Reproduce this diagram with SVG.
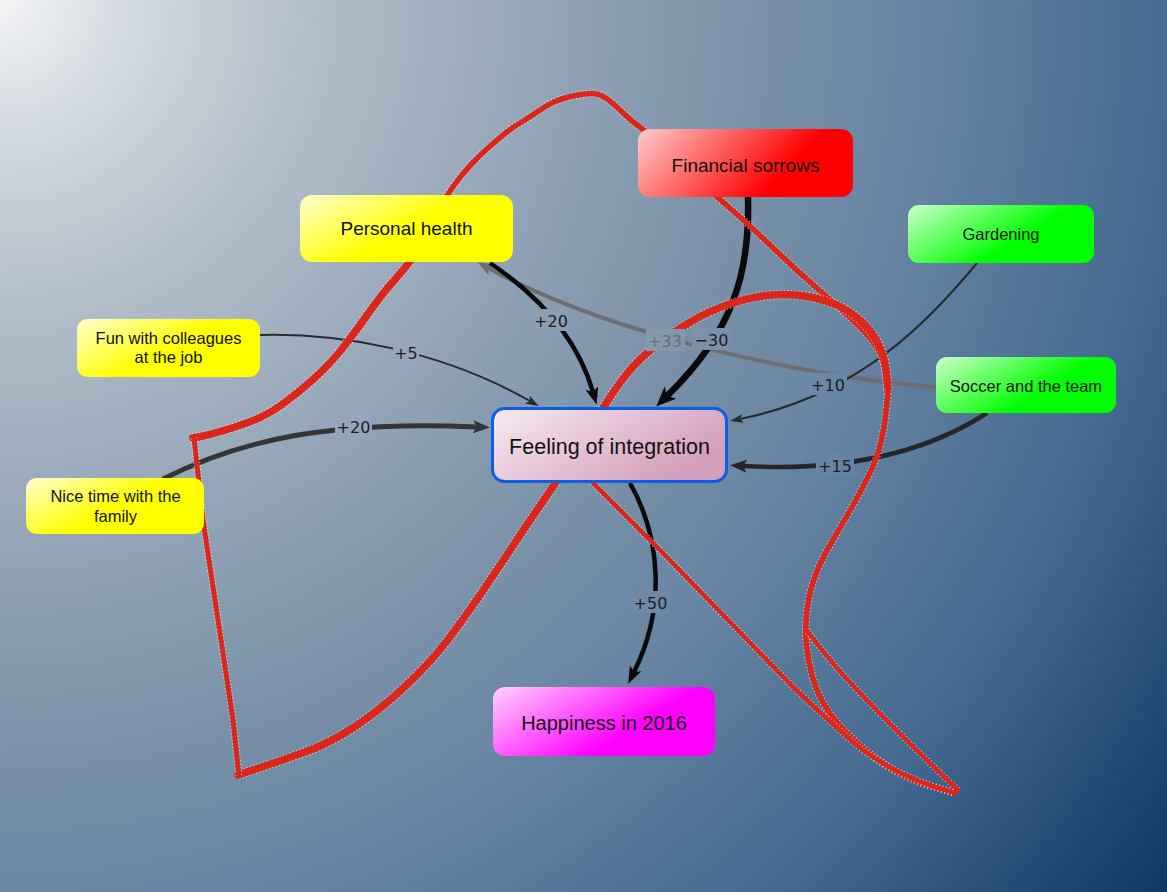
<svg xmlns="http://www.w3.org/2000/svg" width="1167" height="892" viewBox="0 0 1167 892">
<defs>
<radialGradient id="bg" gradientUnits="userSpaceOnUse" cx="0" cy="0" r="1470">
<stop offset="0" stop-color="#f3f4f6"/>
<stop offset="0.08" stop-color="#d6dce2"/>
<stop offset="0.2" stop-color="#b4c0cb"/>
<stop offset="0.35" stop-color="#97a8b9"/>
<stop offset="0.5" stop-color="#7c93a9"/>
<stop offset="0.62" stop-color="#6985a3"/>
<stop offset="0.8" stop-color="#456990"/>
<stop offset="1" stop-color="#0e3763"/>
</radialGradient>
<linearGradient id="gYellow" x1="0" y1="0" x2="1" y2="0.6">
<stop offset="0" stop-color="#ffffd2"/>
<stop offset="0.6" stop-color="#ffff00"/>
</linearGradient>
<linearGradient id="gRed" x1="0" y1="0" x2="1" y2="0.3">
<stop offset="0" stop-color="#ffcccc"/>
<stop offset="0.8" stop-color="#ff0000"/>
</linearGradient>
<linearGradient id="gGreen" x1="0" y1="0" x2="1" y2="0.5">
<stop offset="0" stop-color="#ccffcc"/>
<stop offset="0.72" stop-color="#00ff00"/>
</linearGradient>
<linearGradient id="gMagenta" x1="0" y1="0" x2="1" y2="0.5">
<stop offset="0" stop-color="#ffd2ff"/>
<stop offset="0.75" stop-color="#ff00ff"/>
</linearGradient>
<linearGradient id="gPink" x1="0" y1="0" x2="1" y2="0.5">
<stop offset="0" stop-color="#f7ebf2"/>
<stop offset="1" stop-color="#d39ebb"/>
</linearGradient>
<marker id="mA" markerUnits="userSpaceOnUse" markerWidth="20" markerHeight="17" refX="5" refY="8.5" orient="auto">
<path d="M0,0 L20,8.5 L0,17 L5,8.5 z" fill="#0a0a0a"/>
</marker>
<marker id="mB" markerUnits="userSpaceOnUse" markerWidth="17" markerHeight="13" refX="4" refY="6.5" orient="auto">
<path d="M0,0 L17,6.5 L0,13 L4,6.5 z" fill="#0a0a0a"/>
</marker>
<marker id="mC" markerUnits="userSpaceOnUse" markerWidth="17" markerHeight="13" refX="4" refY="6.5" orient="auto">
<path d="M0,0 L17,6.5 L0,13 L4,6.5 z" fill="#262626"/>
</marker>
<marker id="mC2" markerUnits="userSpaceOnUse" markerWidth="17" markerHeight="13" refX="4" refY="6.5" orient="auto">
<path d="M0,0 L17,6.5 L0,13 L4,6.5 z" fill="#353535"/>
</marker>
<marker id="mD" markerUnits="userSpaceOnUse" markerWidth="13" markerHeight="9" refX="3" refY="4.5" orient="auto">
<path d="M0,0 L13,4.5 L0,9 L3,4.5 z" fill="#2a2a2a"/>
</marker>
<marker id="mG" markerUnits="userSpaceOnUse" markerWidth="16" markerHeight="12" refX="4" refY="6" orient="auto">
<path d="M0,0 L16,6 L0,12 L4,6 z" fill="#6e6e6e"/>
</marker>
<style>
.node text{font-family:"Liberation Sans",Arial,sans-serif;fill:#111;text-anchor:middle}
.edge{fill:none}
.lbl text{font-family:"DejaVu Sans",sans-serif;font-size:16px;fill:#1e1e1e;text-anchor:middle}
.lbl rect{fill:url(#bg)}
.lbl .hl{fill:#ffffff;fill-opacity:0.025}
.lbl .hl2{fill:#ffffff;fill-opacity:0.06}
.red{fill:none;stroke:#da261b;stroke-linecap:round;stroke-linejoin:round}
.spk{fill:none;stroke:#ffffff;stroke-opacity:0.75;stroke-dasharray:1 2.5;stroke-linecap:butt;stroke-linejoin:round}
</style>
</defs>
<rect x="0" y="0" width="1167" height="892" fill="url(#bg)"/>

<g id="connectors">
<path class="edge" d="M937,387 C820,378 620,340 488,268" stroke="#6e6e6e" stroke-width="4" marker-end="url(#mG)"/>
<path class="edge" d="M490,263 C530,290 575,330 593,392" stroke="#0a0a0a" stroke-width="4.5" marker-end="url(#mB)"/>
<path class="edge" d="M748,197 C750,270 735,330 667,396" stroke="#0a0a0a" stroke-width="6.5" marker-end="url(#mA)"/>
<path class="edge" d="M977,263 C930,320 860,395 740,419" stroke="#2a2a2a" stroke-width="2" marker-end="url(#mD)"/>
<path class="edge" d="M987,413 C930,450 850,472 743,466" stroke="#262626" stroke-width="4.5" marker-end="url(#mC)"/>
<path class="edge" d="M260,335 C340,333 440,350 530,401" stroke="#2a2a2a" stroke-width="2" marker-end="url(#mD)"/>
<path class="edge" d="M163,479 C240,440 330,420 477,427" stroke="#353535" stroke-width="5" marker-end="url(#mC2)"/>
<path class="edge" d="M630,483 C662,540 665,610 634,672" stroke="#0a0a0a" stroke-width="4.5" marker-end="url(#mB)"/>
</g>

<g id="annotation">
<path class="spk" stroke-width="9.5" d="M193,438 L203,436 Q213,434 238,426 Q263,418 280,406 Q297,394 313.5,379 Q330,364 341.5,349.5 Q353,335 366.5,316 Q380,297 388.5,287 Q397,277 403.5,269.5 Q410,262 415,253.5 L420,245"/>
<path class="red" stroke-width="7.5" d="M193,438 L203,436 Q213,434 238,426 Q263,418 280,406 Q297,394 313.5,379 Q330,364 341.5,349.5 Q353,335 366.5,316 Q380,297 388.5,287 Q397,277 403.5,269.5 Q410,262 415,253.5 L420,245"/>
<path class="spk" stroke-width="7.5" d="M435,215 L441,205 Q447,195 455,184 Q463,173 471.5,164 Q480,155 488.5,147.5 Q497,140 505,133.5 Q513,127 521.5,122 Q530,117 538.5,111 Q547,105 555,101.5 Q563,98 575,95.5 Q587,93 593.5,93.5 Q600,94 606.5,98.5 Q613,103 621.5,111.5 Q630,120 638.5,126 Q647,132 664.5,148.5 Q682,165 699.5,181 Q717,197 732,210 Q747,223 770,245 Q793,267 810,282 Q827,297 838.5,307 Q850,317 861.5,328.5 Q873,340 879,351.5 Q885,363 886.5,380 L888,397"/>
<path class="red" stroke-width="5.5" d="M435,215 L441,205 Q447,195 455,184 Q463,173 471.5,164 Q480,155 488.5,147.5 Q497,140 505,133.5 Q513,127 521.5,122 Q530,117 538.5,111 Q547,105 555,101.5 Q563,98 575,95.5 Q587,93 593.5,93.5 Q600,94 606.5,98.5 Q613,103 621.5,111.5 Q630,120 638.5,126 Q647,132 664.5,148.5 Q682,165 699.5,181 Q717,197 732,210 Q747,223 770,245 Q793,267 810,282 Q827,297 838.5,307 Q850,317 861.5,328.5 Q873,340 879,351.5 Q885,363 886.5,380 L888,397"/>
<path class="spk" stroke-width="9.5" d="M238,775 L259,768 Q280,761 305,752 Q330,743 355,726.5 Q380,710 405,686.5 Q430,663 446.5,641.5 Q463,620 480,595 Q497,570 513.5,545 Q530,520 541.5,503.5 Q553,487 565.5,467 Q578,447 590.5,427.5 Q603,408 610.5,396.5 Q618,385 625.5,375.5 Q633,366 641.5,358 Q650,350 660,342.5 Q670,335 680,328.5 Q690,322 700,316.5 Q710,311 728.5,304.5 Q747,298 767,295.5 Q787,293 807,296.5 Q827,300 840,306.5 Q853,313 863,323 Q873,333 879,345.5 Q885,358 886.5,374 L888,390"/>
<path class="red" stroke-width="7.5" d="M238,775 L259,768 Q280,761 305,752 Q330,743 355,726.5 Q380,710 405,686.5 Q430,663 446.5,641.5 Q463,620 480,595 Q497,570 513.5,545 Q530,520 541.5,503.5 Q553,487 565.5,467 Q578,447 590.5,427.5 Q603,408 610.5,396.5 Q618,385 625.5,375.5 Q633,366 641.5,358 Q650,350 660,342.5 Q670,335 680,328.5 Q690,322 700,316.5 Q710,311 728.5,304.5 Q747,298 767,295.5 Q787,293 807,296.5 Q827,300 840,306.5 Q853,313 863,323 Q873,333 879,345.5 Q885,358 886.5,374 L888,390"/>
<path class="spk" stroke-width="7.5" d="M888,390 L886.5,407.5 Q885,425 881,442 Q877,459 868.5,476 Q860,493 850,510.5 Q840,528 830,545 Q820,562 814,579.5 Q808,597 806.5,614 Q805,631 806.5,645.5 Q808,660 812,675 Q816,690 823,702.5 Q830,715 840,726 Q850,737 863.5,748.5 Q877,760 893.5,770 Q910,780 932.5,786.5 L955,793"/>
<path class="red" stroke-width="5.5" d="M888,390 L886.5,407.5 Q885,425 881,442 Q877,459 868.5,476 Q860,493 850,510.5 Q840,528 830,545 Q820,562 814,579.5 Q808,597 806.5,614 Q805,631 806.5,645.5 Q808,660 812,675 Q816,690 823,702.5 Q830,715 840,726 Q850,737 863.5,748.5 Q877,760 893.5,770 Q910,780 932.5,786.5 L955,793"/>
<path class="spk" stroke-width="6.5" d="M958,790 Q900,735 860,693 Q830,662 808,632"/>
<path class="red" stroke-width="4.5" d="M958,790 Q900,735 860,693 Q830,662 808,632"/>
<path class="spk" stroke-width="6.5" d="M575,465 L593,483 L660,550 L727,619 L793,687 Q830,722 860,748 Q900,778 955,793"/>
<path class="red" stroke-width="4.5" d="M575,465 L593,483 L660,550 L727,619 L793,687 Q830,722 860,748 Q900,778 955,793"/>
<path class="spk" stroke-width="7" d="M194,438 L203,520 L213,587 L223,653 L233,720 L239,776"/>
<path class="red" stroke-width="5" d="M194,438 L203,520 L213,587 L223,653 L233,720 L239,776"/>
</g>

<g id="edge-labels" class="lbl">
<rect x="533" y="309" width="36" height="22"/><rect class="hl" x="533" y="309" width="36" height="22"/>
<text x="551" y="327">+20</text>
<rect x="393" y="341" width="26" height="22"/><rect class="hl" x="393" y="341" width="26" height="22"/>
<text x="406" y="359">+5</text>
<rect x="335" y="415" width="37" height="22"/><rect class="hl" x="335" y="415" width="37" height="22"/>
<text x="353.5" y="433">+20</text>
<rect x="646" y="329" width="39" height="22"/><rect class="hl2" x="646" y="329" width="39" height="22"/>
<text x="665" y="347" style="fill:#6e6e6e">+33</text>
<rect x="692" y="328" width="39" height="22"/><rect class="hl" x="692" y="328" width="39" height="22"/>
<text x="711.5" y="346">−30</text>
<rect x="810" y="373" width="37" height="22"/><rect class="hl" x="810" y="373" width="37" height="22"/>
<text x="828" y="391">+10</text>
<rect x="816" y="454" width="38" height="22"/><rect class="hl" x="816" y="454" width="38" height="22"/>
<text x="835" y="472">+15</text>
<rect x="632" y="591" width="37" height="22"/><rect class="hl" x="632" y="591" width="37" height="22"/>
<text x="650.5" y="609">+50</text>
</g>

<g id="node-financial" class="node">
<rect x="638" y="129" width="215" height="68" rx="12" fill="url(#gRed)"/>
<text x="745.5" y="172" font-size="19">Financial sorrows</text>
</g>
<g id="node-health" class="node">
<rect x="300" y="195" width="213" height="67" rx="12" fill="url(#gYellow)"/>
<text x="406.5" y="235" font-size="19">Personal health</text>
</g>
<g id="node-gardening" class="node">
<rect x="908" y="205" width="186" height="58" rx="11" fill="url(#gGreen)"/>
<text x="1001" y="240" font-size="16.5">Gardening</text>
</g>
<g id="node-colleagues" class="node">
<rect x="77" y="319" width="183" height="58" rx="11" fill="url(#gYellow)"/>
<text x="168.5" y="344" font-size="16.5">Fun with colleagues</text>
<text x="168.5" y="363" font-size="16.5">at the job</text>
</g>
<g id="node-soccer" class="node">
<rect x="936" y="357" width="180" height="56" rx="11" fill="url(#gGreen)"/>
<text x="1026" y="392" font-size="16.5">Soccer and the team</text>
</g>
<g id="node-integration" class="node">
<rect x="492.5" y="408.5" width="234" height="73" rx="12" fill="url(#gPink)" stroke="#0b5fe6" stroke-width="3"/>
<text x="609.5" y="454" font-size="21.5">Feeling of integration</text>
</g>
<g id="node-family" class="node">
<rect x="26" y="478" width="178" height="56" rx="11" fill="url(#gYellow)"/>
<text x="115.5" y="502" font-size="16.5">Nice time with the</text>
<text x="115.5" y="522" font-size="16.5">family</text>
</g>
<g id="node-happiness" class="node">
<rect x="493" y="687" width="222" height="69" rx="12" fill="url(#gMagenta)"/>
<text x="604" y="730" font-size="20">Happiness in 2016</text>
</g>
</svg>
